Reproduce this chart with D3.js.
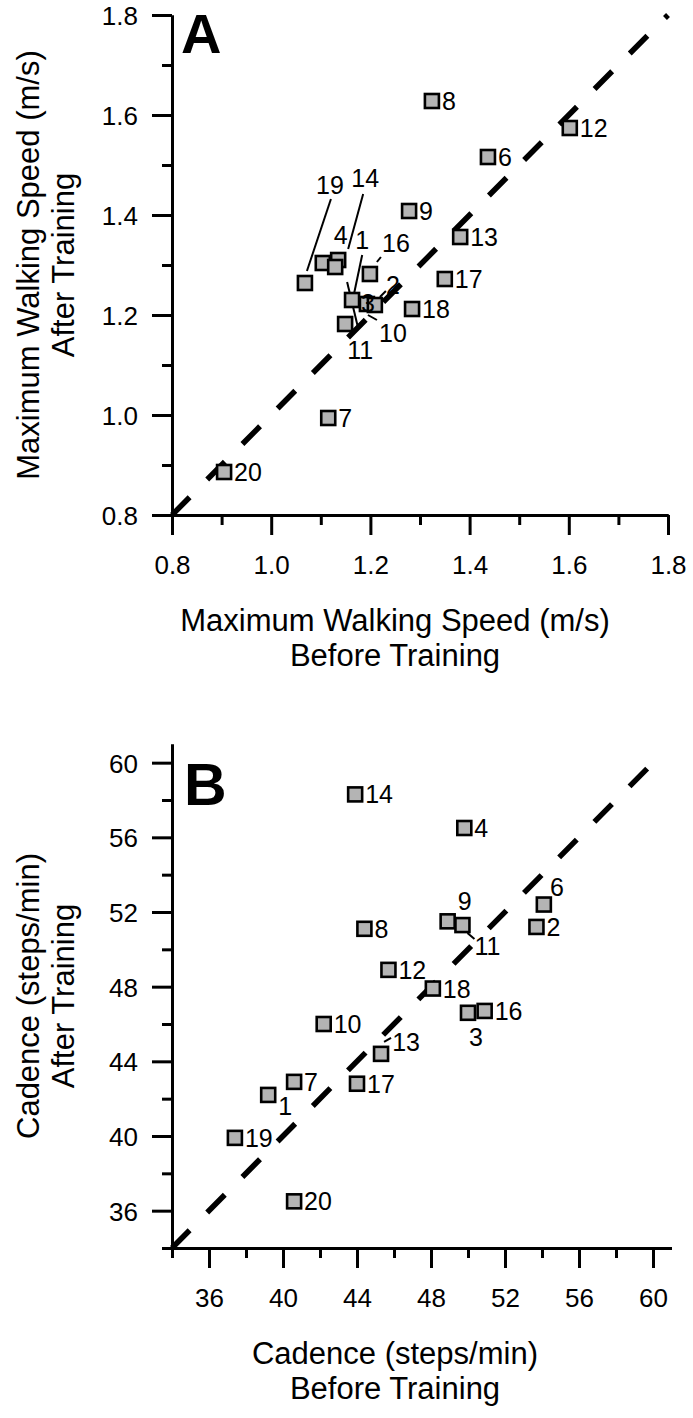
<!DOCTYPE html>
<html><head><meta charset="utf-8">
<script src="https://cdn.jsdelivr.net/npm/d3@7"></script>
<style>
body{margin:0;background:#fff}
svg{display:block}
text{font-family:"Liberation Sans",Arial,Helvetica,sans-serif;fill:#000}
</style>
</head><body>
<svg id="chart" width="693" height="1418"></svg>
<script>
// ---------- Panel A data: Maximum walking speed (m/s) ----------
const subjectsA = [20, 7, 19, 4, 14, 1, 16, 3, 10, 2, 11, 18, 17, 9, 13, 6, 8, 12];
const beforeA   = [0.905, 1.115, 1.068, 1.104, 1.135, 1.129, 1.199, 1.163, 1.193, 1.209, 1.149, 1.284, 1.350, 1.278, 1.381, 1.437, 1.324, 1.602];
const afterA    = [0.886, 0.994, 1.264, 1.304, 1.310, 1.296, 1.282, 1.230, 1.222, 1.220, 1.182, 1.212, 1.272, 1.408, 1.356, 1.516, 1.628, 1.574];
const domainA   = [0.8, 1.8];
const majorTicksA = [0.8, 1.0, 1.2, 1.4, 1.6, 1.8];
const tickLabelsA = ["0.8", "1.0", "1.2", "1.4", "1.6", "1.8"];
const minorTicksA = [0.9, 1.1, 1.3, 1.5, 1.7];

// ---------- Panel B data: Cadence (steps/min) ----------
const subjectsB = [20, 19, 1, 7, 17, 13, 10, 12, 8, 18, 3, 16, 9, 11, 2, 6, 4, 14];
const beforeB   = [40.6, 37.4, 39.2, 40.6, 44.0, 45.3, 42.2, 45.7, 44.4, 48.1, 50.0, 50.9, 48.9, 49.7, 53.7, 54.1, 49.8, 43.9];
const afterB    = [36.5, 39.9, 42.2, 42.9, 42.8, 44.4, 46.0, 48.9, 51.1, 47.9, 46.6, 46.7, 51.5, 51.3, 51.2, 52.4, 56.5, 58.3];
const domainB   = [34, 61];
const majorTicksB = [36, 40, 44, 48, 52, 56, 60];
const tickLabelsB = ["36", "40", "44", "48", "52", "56", "60"];
const minorTicksB = [34, 38, 42, 46, 50, 54, 58];
const identityB = [34, 60.5];

// ---------- Label placement (annotation layout, px offsets from marker) ----------
const labelLayoutA = {
  19: {dx: 25, dy: -98, anchor: "middle", line: [2, -12, 26, -84]},
  14: {dx: 27, dy: -82, anchor: "middle", line: [25, -66, 10, -11]},
  4:  {dx: 18, dy: -28, anchor: "middle"},
  1:  {dx: 27, dy: -27, anchor: "middle", line: [27, -12, 19, 26]},
  16: {dx: 26, dy: -31, anchor: "middle", line: [7, -12, 11, -17]},
  3:  {dx: 16, dy: 3, anchor: "middle"},
  2:  {dx: 18, dy: -20, anchor: "middle", line: [5, -8, 11, -14]},
  10: {dx: 26, dy: 29, anchor: "middle", line: [1, 11, 10, 16]},
  11: {dx: 15, dy: 26, anchor: "middle", line: [2, -42, 13, 4]}
};
const labelLayoutB = {
  6:  {dx: 13, dy: -18, anchor: "middle"},
  9:  {dx: 17, dy: -20, anchor: "middle"},
  11: {dx: 25, dy: 21, anchor: "middle", line: [5, 8, 12, 14]},
  3:  {dx: 8, dy: 24, anchor: "middle"},
  13: {dx: 25, dy: -12, anchor: "middle", line: [3, -12, 10, -16]},
  1:  {dx: 17, dy: 11, anchor: "middle"}
};

const svg = d3.select("#chart");
const FONT_TICK = 26, FONT_LABEL = 25, FONT_TITLE = 31;

function panel(cfg) {
  const x = d3.scaleLinear().domain(cfg.domain).range(cfg.xRange);
  const y = d3.scaleLinear().domain(cfg.domain).range(cfg.yRange);
  const g = svg.append("g");
  const axisY = cfg.yRange[0], axisX = cfg.xRange[0];

  // minor ticks
  g.append("g").attr("transform", `translate(0,${axisY})`)
    .call(d3.axisBottom(x).tickValues(cfg.minor).tickSize(10).tickSizeOuter(0).tickFormat(""));
  g.append("g").attr("transform", `translate(${axisX},0)`)
    .call(d3.axisLeft(y).tickValues(cfg.minor).tickSize(10).tickSizeOuter(0).tickFormat(""));
  // major ticks
  const fmt = (d) => cfg.labels[cfg.major.indexOf(d)];
  g.append("g").attr("class", "xa").attr("transform", `translate(0,${axisY})`)
    .call(d3.axisBottom(x).tickValues(cfg.major).tickSize(20).tickSizeOuter(0).tickPadding(21).tickFormat(fmt));
  g.append("g").attr("class", "ya").attr("transform", `translate(${axisX},0)`)
    .call(d3.axisLeft(y).tickValues(cfg.major).tickSize(20).tickSizeOuter(0).tickPadding(14).tickFormat(fmt));

  g.selectAll(".domain, .tick line").attr("stroke", "#000").attr("stroke-width", 3);
  g.selectAll(".tick text").attr("font-size", FONT_TICK)
    .attr("font-family", '"Liberation Sans",Arial,sans-serif').attr("fill", "#000");
  g.selectAll(".ya .tick text").attr("dy", "0.36em");

  // identity line
  const line = d3.line().x(d => x(d)).y(d => y(d));
  g.append("path").datum(cfg.identity).attr("d", line)
    .attr("fill", "none").attr("stroke", "#000").attr("stroke-width", 5.5)
    .attr("stroke-dasharray", "25,25");

  // points
  const pts = cfg.ids.map((id, i) => ({id, bx: cfg.before[i], ay: cfg.after[i]}));
  const s = 14;
  const leaders = g.append("g");
  g.selectAll("rect.pt").data(pts).join("rect").attr("class", "pt")
    .attr("x", d => x(d.bx) - s / 2).attr("y", d => y(d.ay) - s / 2)
    .attr("width", s).attr("height", s)
    .attr("fill", "#b4b4b4").attr("stroke", "#000").attr("stroke-width", 2.6);

  pts.forEach(d => {
    const L = cfg.layout[d.id] || {dx: 10, dy: 0, anchor: "start"};
    const cx = x(d.bx), cy = y(d.ay);
    if (L.line) {
      leaders.append("line")
        .attr("x1", cx + L.line[0]).attr("y1", cy + L.line[1])
        .attr("x2", cx + L.line[2]).attr("y2", cy + L.line[3])
        .attr("stroke", "#000").attr("stroke-width", 2);
    }
    g.append("text").attr("x", cx + L.dx).attr("y", cy + L.dy).attr("dy", "0.36em")
      .attr("text-anchor", L.anchor).attr("font-size", FONT_LABEL).text(d.id);
  });

  // panel letter
  g.append("text").attr("x", cfg.letterPos[0]).attr("y", cfg.letterPos[1])
    .attr("font-size", cfg.letterSize).attr("font-weight", "bold").text(cfg.letter);

  // titles
  const tx = cfg.titleX;
  g.append("text").attr("x", tx).attr("y", axisY + 116).attr("text-anchor", "middle")
    .attr("font-size", FONT_TITLE).text(cfg.xTitle[0]);
  g.append("text").attr("x", tx).attr("y", axisY + 151).attr("text-anchor", "middle")
    .attr("font-size", FONT_TITLE).text(cfg.xTitle[1]);
  const ym = (cfg.yRange[0] + cfg.yRange[1]) / 2;
  g.append("text").attr("transform", `translate(39,${ym}) rotate(-90)`).attr("text-anchor", "middle")
    .attr("font-size", FONT_TITLE).text(cfg.yTitle[0]);
  g.append("text").attr("transform", `translate(74,${ym}) rotate(-90)`).attr("text-anchor", "middle")
    .attr("font-size", FONT_TITLE).text(cfg.yTitle[1]);
}

panel({
  domain: domainA, xRange: [172, 668], yRange: [515, 15],
  major: majorTicksA, labels: tickLabelsA, minor: minorTicksA,
  identity: domainA,
  ids: subjectsA, before: beforeA, after: afterA, layout: labelLayoutA,
  letter: "A", letterPos: [181, 53], letterSize: 56,
  titleX: 395,
  xTitle: ["Maximum Walking Speed (m/s)", "Before Training"],
  yTitle: ["Maximum Walking Speed (m/s)", "After Training"]
});

panel({
  domain: domainB, xRange: [172, 671.5], yRange: [1248, 744],
  major: majorTicksB, labels: tickLabelsB, minor: minorTicksB,
  identity: identityB,
  ids: subjectsB, before: beforeB, after: afterB, layout: labelLayoutB,
  letter: "B", letterPos: [184, 805], letterSize: 59,
  titleX: 395,
  xTitle: ["Cadence (steps/min)", "Before Training"],
  yTitle: ["Cadence (steps/min)", "After Training"]
});
</script>
</body></html>
